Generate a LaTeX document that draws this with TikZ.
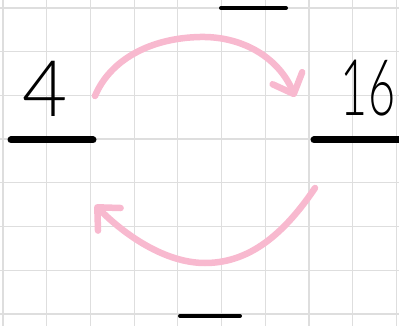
\documentclass[tikz,border=0pt]{standalone}
\usepackage{fontspec}
\newfontfamily\handfont{Lato Light}
\usetikzlibrary{arrows.meta}
\usetikzlibrary{calc}
\definecolor{mypink}{RGB}{248,185,207}
\colorlet{gridcol}{black!13}
\tikzset{
  bar/.style={black,line width=#1,line cap=round},
  bar/.default=4pt,
  loop arrow/.style={mypink,line width=6.5pt,line cap=round,line join=round,
                     -{Straight Barb[length=17pt,width=32pt,round]}},
  digit/.style={font=\handfont\fontsize{78}{78}\selectfont,inner sep=0pt}
}

\begin{document}
\begin{tikzpicture}[x=1pt,y=-1pt]
  \def\g{43.7}                  % grid step
  \def\gx{3}                    % first vertical line
  \def\gy{8}                    % first horizontal line
  \useasboundingbox (0,0) rectangle (399,326);

  % GRID
  \foreach \i in {0,...,9}{
    \draw[gridcol,line width=1.2pt] ({\gx+\i*\g},0) -- ({\gx+\i*\g},326);
  }
  \foreach \i in {0,...,7}{
    \draw[gridcol,line width=1.2pt] (0,{\gy+\i*\g}) -- (399,{\gy+\i*\g});
  }

  % BARS
  \coordinate (TL) at (221,8);
  \coordinate (TR) at (286,8);
  \coordinate (BL) at (180,316);
  \coordinate (BR) at (240,316);
  \coordinate (AL) at (11,140);
  \coordinate (AR) at (93,140);
  \coordinate (CL) at (314,140);
  \coordinate (CR) at (405,140);
  \draw[bar] (TL) -- (TR);
  \draw[bar] (BL) -- (BR);
  \draw[bar=7pt] (AL) -- (AR);
  \draw[bar=7pt] (CL) -- (CR);

  % DIGITS
  \node[digit] (four) at (45,89) {4};
  \node[digit,xscale=0.6] (sixteen) at (368,88) {16};

  % ARROWS
  \coordinate (S1) at (95,96);
  \coordinate (M1) at (200,37);
  \coordinate (E1) at (295,97);
  \coordinate (S2) at (315,188);
  \coordinate (M2) at (205,263);
  \coordinate (E2) at (95,205);
  \draw[loop arrow] (S1) .. controls (110,60) and (150,38) .. (M1)
                         .. controls (245,36) and (280,60) .. (E1);
  \draw[loop arrow] (S2) .. controls (280,240) and (245,263) .. (M2)
                         .. controls (165,263) and (125,235) .. (E2);
\end{tikzpicture}
\end{document}
